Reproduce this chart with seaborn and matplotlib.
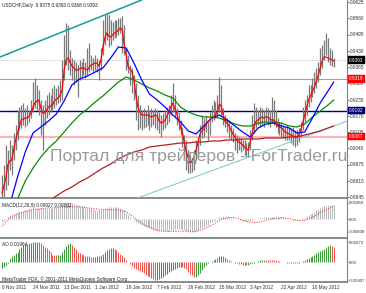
import numpy as np
import pandas as pd
import matplotlib
matplotlib.use("Agg")
import matplotlib.pyplot as plt
import matplotlib.transforms as mtransforms
import seaborn as sns

sns.set_style("white")
plt.rcParams['font.family'] = ['Liberation Sans', 'DejaVu Sans']

# ---------------- data ----------------
date_labels = ["6 Nov 2011", "24 Nov 2011", "13 Dec 2011", "1 Jan 2012", "19 Jan 2012",
               "7 Feb 2012", "26 Feb 2012", "15 Mar 2012", "3 Apr 2012", "22 Apr 2012", "10 May 2012"]

high = [0.8933, 0.8973, 0.9053, 0.9033, 0.9073, 0.9053, 0.9101, 0.9133, 0.9193, 0.9205,
        0.9213, 0.9221, 0.9201, 0.9213, 0.9193, 0.9233, 0.9305, 0.9321, 0.9293, 0.9273,
        0.9233, 0.9213, 0.9233, 0.9253, 0.9265, 0.9253, 0.9281, 0.9293, 0.9281, 0.9293,
        0.9313, 0.9393, 0.9493, 0.9541, 0.9533, 0.9433, 0.9401, 0.9393, 0.9385, 0.9373,
        0.9393, 0.9385, 0.9401, 0.9385, 0.9441, 0.9461, 0.9413, 0.9401, 0.9413, 0.9401,
        0.9393, 0.9441, 0.9553, 0.9573, 0.9581, 0.9573, 0.9553, 0.9545, 0.9553, 0.9553,
        0.9561, 0.9561, 0.9569, 0.9533, 0.9441, 0.9413, 0.9373, 0.9361, 0.9333, 0.9301,
        0.9253, 0.9213, 0.9193, 0.9201, 0.9193, 0.9213, 0.9193, 0.9201, 0.9193, 0.9201,
        0.9193, 0.9185, 0.9173, 0.9181, 0.9193, 0.9205, 0.9213, 0.9253, 0.9301, 0.9253,
        0.9201, 0.9185, 0.9153, 0.9125, 0.9093, 0.9073, 0.9033, 0.9013, 0.9001, 0.9033,
        0.9073, 0.9085, 0.9133, 0.9173, 0.9161, 0.9173, 0.9153, 0.9185, 0.9213, 0.9233,
        0.9225, 0.9253, 0.9325, 0.9293, 0.9201, 0.9173, 0.9161, 0.9153, 0.9133, 0.9121,
        0.9101, 0.9093, 0.9085, 0.9081, 0.9073, 0.9073, 0.9061, 0.9065, 0.9113, 0.9173,
        0.9221, 0.9205, 0.9193, 0.9205, 0.9201, 0.9193, 0.9205, 0.9201, 0.9193, 0.9245,
        0.9233, 0.9193, 0.9161, 0.9145, 0.9141, 0.9133, 0.9125, 0.9133, 0.9125, 0.9121,
        0.9125, 0.9113, 0.9113, 0.9121, 0.9145, 0.9205, 0.9233, 0.9253, 0.9293, 0.9293,
        0.9321, 0.9345, 0.9361, 0.9385, 0.9441, 0.9453, 0.9473, 0.9501, 0.9481, 0.9441,
        0.9433, 0.9401]

low = [0.8837, 0.8841, 0.8873, 0.8893, 0.8953, 0.8933, 0.8993, 0.9033, 0.9073, 0.9113,
       0.9121, 0.9133, 0.9125, 0.9133, 0.9145, 0.9161, 0.9185, 0.9201, 0.9193, 0.9173,
       0.9093, 0.9033, 0.9133, 0.9161, 0.9173, 0.9185, 0.9193, 0.9201, 0.9213, 0.9221,
       0.9225, 0.9233, 0.9313, 0.9373, 0.9353, 0.9333, 0.9313, 0.9293, 0.9305, 0.9245,
       0.9313, 0.9321, 0.9333, 0.9321, 0.9333, 0.9345, 0.9353, 0.9345, 0.9353, 0.9345,
       0.9313, 0.9353, 0.9413, 0.9453, 0.9473, 0.9445, 0.9453, 0.9473, 0.9481, 0.9485,
       0.9493, 0.9501, 0.9421, 0.9413, 0.9353, 0.9341, 0.9293, 0.9261, 0.9233, 0.9153,
       0.9113, 0.9121, 0.9113, 0.9121, 0.9125, 0.9133, 0.9113, 0.9125, 0.9133, 0.9121,
       0.9113, 0.9101, 0.9085, 0.9113, 0.9121, 0.9133, 0.9145, 0.9173, 0.9185, 0.9165,
       0.9133, 0.9113, 0.9093, 0.9045, 0.8993, 0.8953, 0.8941, 0.8941, 0.8945, 0.8953,
       0.8993, 0.9013, 0.9053, 0.9081, 0.9085, 0.9105, 0.9073, 0.9093, 0.9145, 0.9153,
       0.9161, 0.9165, 0.9185, 0.9173, 0.9133, 0.9125, 0.9105, 0.9081, 0.9073, 0.9065,
       0.9033, 0.9021, 0.9033, 0.9025, 0.9033, 0.9013, 0.9005, 0.9005, 0.9033, 0.9073,
       0.9101, 0.9121, 0.9133, 0.9125, 0.9133, 0.9125, 0.9145, 0.9133, 0.9125, 0.9141,
       0.9133, 0.9125, 0.9101, 0.9093, 0.9085, 0.9081, 0.9073, 0.9073, 0.9073, 0.9061,
       0.9053, 0.9045, 0.9053, 0.9065, 0.9085, 0.9113, 0.9145, 0.9173, 0.9205, 0.9225,
       0.9245, 0.9261, 0.9281, 0.9305, 0.9333, 0.9361, 0.9393, 0.9413, 0.9385, 0.9373,
       0.9369, 0.9365]

ma_fast = [0.8861, 0.8889, 0.8921, 0.8973, 0.8989, 0.8993, 0.9033, 0.9073, 0.9101, 0.9129,
           0.9153, 0.9157, 0.9161, 0.9161, 0.9169, 0.9181, 0.9205, 0.9221, 0.9229, 0.9233,
           0.9201, 0.9181, 0.9181, 0.9193, 0.9205, 0.9209, 0.9213, 0.9229, 0.9237, 0.9241,
           0.9253, 0.9273, 0.9353, 0.9393, 0.9401, 0.9385, 0.9369, 0.9361, 0.9353, 0.9353,
           0.9357, 0.9361, 0.9361, 0.9357, 0.9353, 0.9365, 0.9373, 0.9377, 0.9381, 0.9381,
           0.9369, 0.9393, 0.9445, 0.9481, 0.9501, 0.9489, 0.9485, 0.9493, 0.9501, 0.9505,
           0.9513, 0.9521, 0.9513, 0.9453, 0.9413, 0.9365, 0.9357, 0.9345, 0.9313, 0.9253,
           0.9205, 0.9185, 0.9173, 0.9173, 0.9173, 0.9173, 0.9169, 0.9165, 0.9169, 0.9173,
           0.9169, 0.9149, 0.9141, 0.9145, 0.9153, 0.9169, 0.9185, 0.9205, 0.9221, 0.9201,
           0.9181, 0.9153, 0.9125, 0.9101, 0.9061, 0.9025, 0.9001, 0.8981, 0.8989, 0.9005,
           0.9033, 0.9061, 0.9097, 0.9109, 0.9117, 0.9133, 0.9145, 0.9153, 0.9161, 0.9165,
           0.9173, 0.9185, 0.9217, 0.9209, 0.9173, 0.9145, 0.9141, 0.9129, 0.9113, 0.9097,
           0.9085, 0.9073, 0.9065, 0.9061, 0.9053, 0.9045, 0.9037, 0.9033, 0.9069, 0.9101,
           0.9133, 0.9149, 0.9153, 0.9161, 0.9165, 0.9161, 0.9165, 0.9165, 0.9157, 0.9153,
           0.9153, 0.9145, 0.9129, 0.9125, 0.9121, 0.9113, 0.9105, 0.9101, 0.9097, 0.9093,
           0.9089, 0.9085, 0.9085, 0.9093, 0.9113, 0.9141, 0.9173, 0.9205, 0.9233, 0.9249,
           0.9269, 0.9285, 0.9309, 0.9333, 0.9361, 0.9389, 0.9405, 0.9405, 0.9401, 0.9397,
           0.9393, 0.9389]

# slower moving averages, read every 4th bar (bar index in *_bars)
ma_mid_bars = list(range(4, 172, 4)) + [171]
ma_mid = [0.8813, 0.8925, 0.9025, 0.9101, 0.9125, 0.9149, 0.9177, 0.9229, 0.9293, 0.9317,
          0.9329, 0.9345, 0.9361, 0.9401, 0.9445, 0.9441, 0.9381, 0.9313, 0.9257, 0.9233,
          0.9205, 0.9173, 0.9145, 0.9109, 0.9097, 0.9129, 0.9161, 0.9173, 0.9153, 0.9129,
          0.9105, 0.9085, 0.9121, 0.9137, 0.9141, 0.9129, 0.9121, 0.9101, 0.9105, 0.9161,
          0.9221, 0.9269, 0.9305]

ma_slow_bars = list(range(8, 172, 4)) + [171]
ma_slow = [0.8837, 0.8909, 0.8961, 0.9005, 0.9041, 0.9069, 0.9105, 0.9141, 0.9173, 0.9197,
           0.9225, 0.9249, 0.9277, 0.9305, 0.9325, 0.9313, 0.9297, 0.9281, 0.9269, 0.9253,
           0.9241, 0.9205, 0.9185, 0.9173, 0.9165, 0.9165, 0.9161, 0.9149, 0.9137, 0.9129,
           0.9129, 0.9141, 0.9145, 0.9145, 0.9141, 0.9129, 0.9125, 0.9137, 0.9165, 0.9189,
           0.9213, 0.9233]

ma_long_bars = list(range(24, 172, 4)) + [171]
ma_long = [0.8829, 0.8849, 0.8869, 0.8885, 0.8905, 0.8921, 0.8941, 0.8961, 0.8977, 0.8997,
           0.9013, 0.9025, 0.9033, 0.9045, 0.9049, 0.9053, 0.9057, 0.9061, 0.9061, 0.9065,
           0.9065, 0.9069, 0.9069, 0.9073, 0.9073, 0.9077, 0.9077, 0.9077, 0.9081, 0.9081,
           0.9081, 0.9085, 0.9085, 0.9093, 0.9101, 0.9109, 0.9121, 0.9129]

# horizontal levels and trend lines
level_close = 0.9393
level_res = 0.9317
level_mid = 0.9191
level_sup = 0.9087
trend_upper = [(-1, 0.9405), (72, 0.9633)]
trend_lower = [(67, 0.8833), (178, 0.9149)]

price_ticks = [0.9625, 0.9560, 0.9495, 0.9430, 0.9365, 0.9300, 0.9235, 0.9170,
               0.9105, 0.9040, 0.8975, 0.8910, 0.8845]

macd_hist = [-150, -100, 50, 150, 230, 300, 360, 420, 460, 500,
             540, 570, 610, 640, 670, 700, 730, 750, 766, 760,
             750, 740, 740, 750, 760, 770, 780, 790, 800, 810,
             820, 850, 920, 1000, 1060, 1084, 1070, 1040, 1000, 960,
             910, 860, 820, 790, 760, 730, 700, 670, 650, 630,
             630, 650, 690, 730, 770, 790, 800, 810, 820, 830,
             820, 780, 700, 600, 450, 300, 130, 20, -80, -170,
             -250, -320, -380, -430, -480, -520, -560, -610, -660, -720,
             -760, -770, -770, -770, -770, -760, -740, -700, -660, -640,
             -630, -630, -640, -660, -700, -750, -790, -808, -805, -795,
             -770, -700, -620, -540, -470, -400, -330, -260, -180, -110,
             -30, 60, 150, 190, 200, 190, 170, 140, 110, 80,
             60, 40, 10, -30, -70, -110, -130, -120, -80, -40,
             0, 30, 60, 90, 110, 130, 140, 160, 170, 180,
             190, 190, 180, 170, 150, 130, 110, 80, 50, 20,
             -10, -40, -60, -50, 0, 70, 130, 200, 280, 360,
             440, 520, 600, 680, 760, 830, 890, 940, 970, 970,
             950, 927]  # x 1e-5
macd_signal_bars = list(range(0, 172, 4)) + [171]
macd_signal = [-447, 128, 383, 510, 638, 702, 766, 766, 798, 829,
               829, 766, 702, 638, 638, 606, 510, 128, -255, -510,
               -702, -780, -780, -766, -766, -780, -638, -383, -64, 128,
               128, -64, -191, -191, -64, 64, 128, 64, -64, -64,
               128, 447, 702, 882]  # x 1e-5

ao = [-800, -650, -450, -100, 500, 800, 1000, 1200, 1400, 1700,
      2000, 2250, 2350, 2450, 2550, 2600, 2620, 2650, 2672, 2660,
      2550, 2300, 2050, 1850, 1600, 1300, 1000, 900, 900, 950,
      1000, 1300, 1700, 2100, 2400, 2500, 2300, 2000, 1700, 1400,
      1200, 1050, 950, 850, 800, 750, 700, 680, 700, 750,
      800, 900, 1100, 1400, 1600, 1800, 1850, 1900, 1800, 1600,
      1300, 1100, 900, 700, 300, 0, -300, -600, -750, -900,
      -1050, -1150, -1300, -1500, -1700, -1850, -2000, -2150, -2300, -2407,
      -2350, -2250, -2100, -1950, -1750, -1600, -1400, -1200, -1050, -900,
      -800, -700, -650, -700, -800, -1000, -1300, -1550, -1800, -2000,
      -1950, -1800, -1500, -1100, -700, -400, -200, -50, 100, 250,
      400, 550, 750, 850, 800, 650, 450, 250, 100, 0,
      -80, -150, -230, -300, -350, -400, -420, -380, -300, -200,
      -80, 50, 150, 220, 270, 300, 300, 280, 260, 260,
      250, 230, 180, 120, 50, 0, -60, -120, -150, -170,
      -180, -170, -140, -100, -20, 100, 250, 400, 550, 700,
      850, 1000, 1150, 1300, 1450, 1600, 1800, 2000, 2200, 2300,
      2150, 1964]  # x 1e-5

# ---------------- figure ----------------
W, H = 366, 293
fig = plt.figure(figsize=(W / 100, H / 100), dpi=100)
fig.patch.set_facecolor('white')


def ax_at(x0, y0, x1, y1):
    return fig.add_axes([x0 / W, 1 - y1 / H, (x1 - x0) / W, (y1 - y0) / H])


ax = ax_at(0, 0, 347, 198)
axm = ax_at(0, 199, 347, 238)
axa = ax_at(0, 239, 347, 282)

n = len(high)
idx = np.arange(n)
XL = (-1.03, 177.8)
FS = 3.4
FS_SUB = 3.1
GRAY = '#808080'

# main price panel
ax.vlines(idx, low, high, color='#7a7a7a', lw=0.9, zorder=2)
ax.axhline(level_close, color='#b8b8b8', lw=0.6, ls=(0, (1, 1)), zorder=1)
ax.axhline(level_res, color='#f08080', lw=0.8, zorder=1)
ax.axhline(level_mid, color='#000080', lw=1.0, zorder=1)
ax.axhline(level_sup, color='#ffb4b4', lw=1.6, zorder=1)
ax.axline(trend_upper[0], trend_upper[1], color='#189c9c', lw=1.1, zorder=3)
ax.axline(trend_lower[0], trend_lower[1], color='#70c8c8', lw=0.7, zorder=3)

sns.lineplot(x=np.array(ma_long_bars), y=ma_long, ax=ax, color='#b02222', lw=0.9, legend=False, zorder=4)
sns.lineplot(x=np.array(ma_slow_bars), y=ma_slow, ax=ax, color='#0a8a0a', lw=0.9, legend=False, zorder=4)
sns.lineplot(x=np.array(ma_mid_bars), y=ma_mid, ax=ax, color='#0000ff', lw=0.9, legend=False, zorder=4)
sns.lineplot(x=idx, y=ma_fast, ax=ax, color='#ff0000', lw=0.9, legend=False, zorder=5)

ax.set_xlim(*XL)
ax.set_ylim(0.8841, 0.9633)

# MACD panel
macd_v = np.array(macd_hist) / 1e5
sig_v = np.array(macd_signal) / 1e5
axm.vlines(idx, 0, macd_v, color='#b8b8b8', lw=0.7)
sns.lineplot(x=np.array(macd_signal_bars), y=sig_v, ax=axm, color='#ff2020', lw=0.7,
             linestyle=(0, (1, 1.5)), legend=False)
axm.set_xlim(*XL)
axm.set_ylim(-0.01212, 0.0134)

# AO panel
ao_v = np.array(ao) / 1e5
up = np.r_[True, np.diff(ao_v) > 0]
colors = np.where(up, '#3c9c3c', '#ee5a52')
axa.vlines(idx, 0, ao_v, colors=colors, lw=0.75)
axa.set_xlim(*XL)
axa.set_ylim(-0.02672, 0.03073)

# axes styling
for a in (ax, axm, axa):
    a.set_xlabel('')
    a.set_ylabel('')
    a.yaxis.tick_right()
    a.tick_params(axis='y', labelsize=FS, length=1.2, width=0.5, pad=1.0, colors='#303030')
    for s in ('left', 'top'):
        a.spines[s].set_visible(False)
    a.spines['right'].set_color(GRAY)
    a.spines['right'].set_linewidth(0.8)
    a.spines['bottom'].set_color(GRAY)
    a.spines['bottom'].set_linewidth(1.3)

for a in (axm, axa):
    a.tick_params(axis='y', labelsize=FS_SUB, length=0.6, pad=0.4)

ax.set_xticks([])
axm.set_xticks([])
ax.set_yticks(price_ticks)
ax.set_yticklabels([f"{v:.4f}" for v in price_ticks])
axm.set_yticks([0.01084, 0.0, -0.00808])
axm.set_yticklabels(["0.01084", "0.00", "-0.00808"])
axa.set_yticks([0.02672, 0.0, -0.02407])
axa.set_yticklabels(["0.02672", "0.00", "-0.02407"])
axa.set_xticks(idx[::16][:len(date_labels)])
axa.set_xticklabels(date_labels, ha='left')
axa.tick_params(axis='x', labelsize=FS, length=1.5, width=0.5, pad=1.0, colors='#303030')

# coloured price boxes on the right scale
trans = mtransforms.blended_transform_factory(ax.transAxes, ax.transData)
for val, txt, bg in [(level_close, "0.9393", '#000000'), (level_res, "0.9318", '#ff0000'),
                     (level_mid, "0.9192", '#000080'), (level_sup, "0.9087", '#ff0000')]:
    ax.text(1.006, val, txt, transform=trans, fontsize=FS, color='white', va='center', ha='left',
            bbox=dict(boxstyle='square,pad=0.25', fc=bg, ec=bg, lw=0.3), zorder=10, clip_on=False)

# texts
def ftext(x, y, s, **kw):
    fig.text(x / W, 1 - y / H, s, **kw)

ftext(2, 6, "USDCHF,Daily  0.9375 0.9393 0.9368 0.9393", fontsize=FS, color='#202020', va='center')
ftext(2, 205, "MACD(12,26,9) 0.00927 0.00882", fontsize=FS, color='#202020', va='center')
ftext(2, 244, "AO 0.01964", fontsize=FS, color='#202020', va='center')
ftext(2, 279, "MetaTrader FDX, © 2001-2011 MetaQuotes Software Corp.", fontsize=FS, color='#202020', va='center')
ftext(50, 156, "Портал для трейдеров - ForTrader.ru", fontsize=12.6, color='#9a9a9a', va='center',
      ha='left', zorder=20)

fig.savefig("out.png", dpi=100, facecolor='white')
